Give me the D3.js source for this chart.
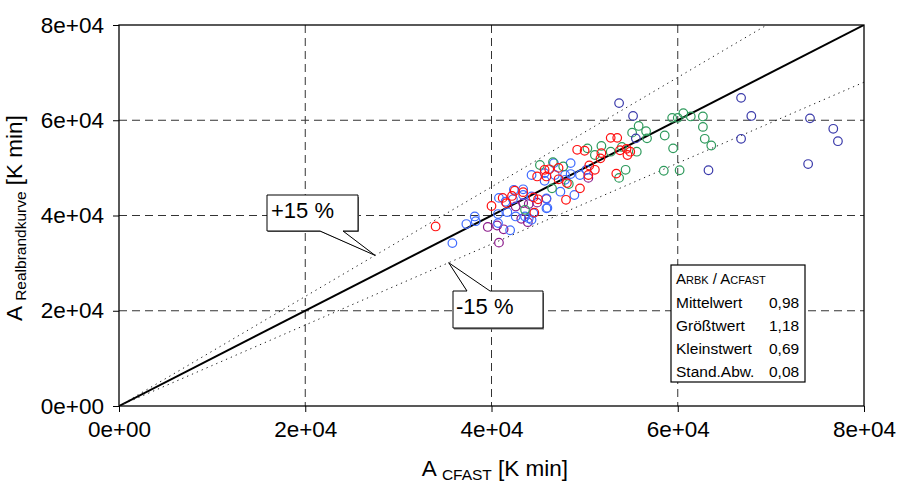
<!DOCTYPE html>
<html>
<head>
<meta charset="utf-8">
<script src="https://cdn.jsdelivr.net/npm/d3@7"></script>
<style>
  body { margin: 0; background: #fff; }
  svg { display: block; font-family: "Liberation Sans", Arial, sans-serif; }
</style>
</head>
<body>
<svg id="chart" width="897" height="487"></svg>
<script>
// values in 1000 K min  [A_CFAST, A_Realbrandkurve]
const seriesRed = [
  [34.0,37.7],[40.0,42.0],[41.2,43.7],[41.6,42.6],[42.2,44.1],[42.5,45.2],[43.4,44.9],[44.5,43.8],
  [44.6,40.6],[45.0,43.4],[44.9,48.2],[45.7,49.6],[45.9,48.2],[46.2,49.7],[47.2,47.6],[47.2,50.0],
  [48.0,43.3],[48.1,46.8],[49.2,53.8],[50.0,53.6],[49.5,45.7],[50.5,50.5],[50.4,48.5],[51.1,49.6],
  [51.7,52.0],[51.8,53.1],[52.8,56.3],[53.5,56.3],[53.4,48.8],[53.8,53.7],[54.5,54.0],[54.9,53.4],
  [54.6,52.7]
];
const seriesBlue = [
  [35.8,34.2],[37.3,38.2],[38.2,39.8],[38.3,38.8],[40.7,40.3],[40.8,43.7],[41.7,40.7],[42.6,39.8],
  [43.6,39.8],[42.0,36.9],[42.4,45.4],[43.4,45.5],[42.3,43.4],[43.4,44.3],[41.5,42.9],[40.7,38.4],
  [44.3,39.1],[45.9,41.5],[44.3,48.5],[46.7,51.0],[48.5,51.0],[45.7,48.9],[45.7,47.3],[47.9,48.5],
  [48.5,48.7],[49.5,48.5],[50.2,49.6],[47.4,45.0],[48.9,44.3],[45.9,43.6],[46.0,41.6],[44.3,44.0],
  [44.5,40.5],[44.0,39.4],[46.8,48.5],[47.9,47.5]
];
const seriesPurple = [
  [39.6,37.6],[40.6,37.9],[41.3,37.1],[40.8,34.3],[42.6,41.9],[43.4,42.6],[44.0,42.4],[44.9,42.7],
  [45.9,43.5],[43.2,39.3],[43.9,38.6],[50.4,47.9]
];
const seriesGreen = [
  [43.6,41.2],[45.2,50.6],[46.6,51.2],[47.7,50.3],[46.5,45.7],[48.3,46.6],[50.3,54.1],[51.1,52.7],
  [51.8,54.6],[52.8,53.4],[54.0,54.4],[54.4,49.6],[53.7,47.9],[55.1,57.4],[55.8,58.8],[56.6,57.7],
  [56.7,56.2],[55.6,53.4],[58.6,56.8],[59.5,54.1],[59.4,60.5],[60.0,60.5],[60.6,61.5],[61.4,60.8],
  [62.7,60.8],[62.7,58.6],[62.9,56.1],[63.6,54.7],[58.5,49.4],[60.2,49.5]
];
const seriesNavy = [
  [53.7,63.6],[55.2,60.9],[55.5,56.2],[66.8,64.7],[67.9,60.9],[66.8,56.1],[74.2,60.4],[76.7,58.2],
  [77.2,55.6],[74.0,50.8],[63.3,49.5]
];
const tickValues = [0, 20, 40, 60, 80];
const tickLabels = ["0e+00", "2e+04", "4e+04", "6e+04", "8e+04"];
const statLabels = ["Mittelwert", "Größtwert", "Kleinstwert", "Stand.Abw."];
const statValues = ["0,98", "1,18", "0,69", "0,08"];
const bandFactors = [1.15, 0.85];

const svg = d3.select("#chart");
const m = { left: 119, right: 864, top: 25, bottom: 406 };
const x = d3.scaleLinear().domain([0, 80]).range([m.left, m.right]);
const y = d3.scaleLinear().domain([0, 80]).range([m.bottom, m.top]);

svg.append("defs").append("clipPath").attr("id", "plotclip")
  .append("rect").attr("x", m.left).attr("y", m.top)
  .attr("width", m.right - m.left).attr("height", m.bottom - m.top);

// grid
const grid = svg.append("g").attr("stroke", "#333").attr("stroke-width", 1).attr("stroke-dasharray", "8,5");
tickValues.slice(1, -1).forEach(v => {
  grid.append("line").attr("x1", x(v)).attr("x2", x(v)).attr("y1", m.top).attr("y2", m.bottom);
  grid.append("line").attr("y1", y(v)).attr("y2", y(v)).attr("x1", m.left).attr("x2", m.right);
});

// axes
const xAxis = d3.axisBottom(x).tickValues(tickValues).tickSize(6).tickPadding(9)
  .tickFormat((d, i) => tickLabels[i]);
const yAxis = d3.axisLeft(y).tickValues(tickValues).tickSize(6).tickPadding(9)
  .tickFormat((d, i) => tickLabels[i]);
const gx = svg.append("g").attr("transform", `translate(0,${m.bottom})`).call(xAxis);
const gy = svg.append("g").attr("transform", `translate(${m.left},0)`).call(yAxis);
[gx, gy].forEach(g => {
  g.select(".domain").remove();
  g.selectAll("text").attr("font-size", 22.5).attr("fill", "#000")
    .attr("font-family", "Liberation Sans, Arial, sans-serif");
  g.selectAll("line").attr("stroke", "#000");
});

// reference lines
const lines = svg.append("g").attr("clip-path", "url(#plotclip)");
lines.append("line").attr("x1", x(0)).attr("y1", y(0)).attr("x2", x(80)).attr("y2", y(80))
  .attr("stroke", "#000").attr("stroke-width", 2);
bandFactors.forEach(f => {
  lines.append("line").attr("x1", x(0)).attr("y1", y(0)).attr("x2", x(80)).attr("y2", y(80 * f))
    .attr("stroke", "#222").attr("stroke-width", 1).attr("stroke-dasharray", "1.3,4");
});

// points
const series = [
  { data: seriesPurple, color: "#8b1a8b" },
  { data: seriesBlue, color: "#3f6bff" },
  { data: seriesGreen, color: "#2e9a5c" },
  { data: seriesRed, color: "#ff1010" },
  { data: seriesNavy, color: "#3a3aaa" }
];
series.forEach(s => {
  svg.append("g").selectAll("circle").data(s.data).enter().append("circle")
    .attr("cx", d => x(d[0])).attr("cy", d => y(d[1])).attr("r", 4.3)
    .attr("fill", "none").attr("stroke", s.color).attr("stroke-width", 1.2);
});

// callouts
const tipPlus = [x(27.5), y(27.5 * 1.15)];
svg.append("path")
  .attr("d", `M268,197 H359 V232 H344 L${tipPlus[0]},${tipPlus[1]} L321,232 H268 Z`)
  .attr("fill", "#777").attr("stroke", "none");
svg.append("path")
  .attr("d", `M267,195 H358 V231 H343 L${tipPlus[0]},${tipPlus[1]} L320,231 H267 Z`)
  .attr("fill", "#fff").attr("stroke", "#000").attr("stroke-width", 1);
svg.append("text").attr("x", 271).attr("y", 218).attr("font-size", 22).text("+15 %");

const tipMinus = [x(35.4), y(35.4 * 0.85)];
svg.append("path")
  .attr("d", `M454,293 H468 L${tipMinus[0]},${tipMinus[1]} L491,293 H544 V329.5 H454 Z`)
  .attr("fill", "#777").attr("stroke", "none");
svg.append("path")
  .attr("d", `M453,291 H467 L${tipMinus[0]},${tipMinus[1]} L490,291 H543 V328 H453 Z`)
  .attr("fill", "#fff").attr("stroke", "#000").attr("stroke-width", 1);
svg.append("text").attr("x", 456).attr("y", 314).attr("font-size", 22).text("-15 %");

// statistics box
const box = svg.append("g");
box.append("rect").attr("x", 671).attr("y", 265).attr("width", 134).attr("height", 117)
  .attr("fill", "#fff").attr("stroke", "#000").attr("stroke-width", 1.2);
const title = box.append("text").attr("x", 676).attr("y", 284).attr("font-size", 15);
title.append("tspan").text("A");
title.append("tspan").attr("font-size", 11).text("RBK");
title.append("tspan").text(" / A");
title.append("tspan").attr("font-size", 11).text("CFAST");
statLabels.forEach((l, i) => {
  box.append("text").attr("x", 676).attr("y", 307.5 + i * 23.3).attr("font-size", 15.5).text(l);
  box.append("text").attr("x", 769).attr("y", 307.5 + i * 23.3).attr("font-size", 15.5).text(statValues[i]);
});

// frame
svg.append("rect").attr("x", m.left).attr("y", m.top)
  .attr("width", m.right - m.left).attr("height", m.bottom - m.top)
  .attr("fill", "none").attr("stroke", "#000").attr("stroke-width", 1.3);

// axis titles
const xt = svg.append("text").attr("x", 495).attr("y", 476).attr("text-anchor", "middle").attr("font-size", 22.5);
xt.append("tspan").text("A ");
xt.append("tspan").attr("font-size", 15.5).attr("dy", 4).text("CFAST");
xt.append("tspan").attr("dy", -4).text(" [K min]");

const yt = svg.append("text").attr("transform", `translate(22,218) rotate(-90)`)
  .attr("text-anchor", "middle").attr("font-size", 22.5);
yt.append("tspan").text("A ");
yt.append("tspan").attr("font-size", 15.5).attr("dy", 4).text("Realbrandkurve");
yt.append("tspan").attr("dy", -4).text(" [K min]");
</script>
</body>
</html>
